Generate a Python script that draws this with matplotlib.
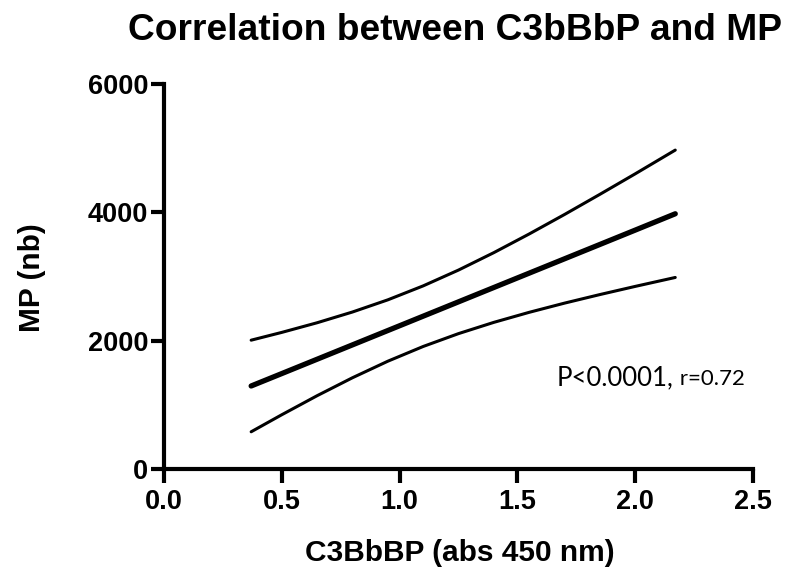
import numpy as np
import matplotlib.pyplot as plt

# --------------------------------------------
# Regression line with 95% confidence band
# --------------------------------------------
x_fit = [0.37, 0.50, 0.65, 0.80, 0.95, 1.10, 1.25, 1.40, 1.55, 1.70, 1.85, 2.00, 2.17]
mp_fit = [1298, 1491, 1714, 1937, 2160, 2383, 2606, 2829, 3052, 3275, 3498, 3721, 3975]
mp_upper = [2010, 2131, 2281, 2448, 2637, 2854, 3100, 3371, 3661, 3964, 4277, 4596, 4965]
mp_lower = [586, 851, 1147, 1426, 1683, 1912, 2112, 2287, 2443, 2586, 2719, 2846, 2985]

x_ticks = [0.0, 0.5, 1.0, 1.5, 2.0, 2.5]
x_tick_labels = ['0.0', '0.5', '1.0', '1.5', '2.0', '2.5']
y_ticks = [0, 2000, 4000, 6000]

stats_main = 'P<0.0001,'
stats_r = ' r=0.72'

plt.rcParams['font.family'] = ['Liberation Sans', 'DejaVu Sans']

fig = plt.figure(figsize=(7.88, 5.67), dpi=100)
ax = fig.add_axes([0.2081, 0.1720, 0.7475, 0.6807])

# CI band lines and the fit line
ax.plot(x_fit, mp_upper, color='black', lw=2.2, solid_capstyle='round')
ax.plot(x_fit, mp_lower, color='black', lw=2.2, solid_capstyle='round')
ax.plot(x_fit, mp_fit, color='black', lw=3.8, solid_capstyle='round')

ax.set_xlim(0, 2.5)
ax.set_ylim(0, 6000)
ax.set_xticks(x_ticks)
ax.set_xticklabels(x_tick_labels)
ax.set_yticks(y_ticks)

for side in ['top', 'right']:
    ax.spines[side].set_visible(False)
for side in ['left', 'bottom']:
    ax.spines[side].set_linewidth(3)
    ax.spines[side].set_capstyle('projecting')

ax.tick_params(axis='x', direction='out', length=10, width=3, pad=4,
               labelsize=19.5)
ax.tick_params(axis='y', direction='out', length=9.5, width=3, pad=2,
               labelsize=19.5)
for lbl in ax.get_xticklabels() + ax.get_yticklabels():
    lbl.set_fontweight('bold')

# axis titles and chart title
fig.text(0.584, 0.0106, 'C3BbBP (abs 450 nm)', ha='center', va='baseline',
         fontsize=21.5, fontweight='bold')
fig.text(0.041, 0.5097, 'MP (nb)', rotation=90, ha='center', va='center',
         fontsize=21.5, fontweight='bold')
fig.text(0.1624, 0.9295, 'Correlation between C3bBbP and MP', ha='left',
         va='baseline', fontsize=26.7, fontweight='bold')

# stats annotation, two sizes
t1 = ax.text(1.668, 1313, stats_main, fontsize=18.5,
             family=['Lato', 'DejaVu Sans'], ha='left', va='baseline')
fig.canvas.draw()
bb = t1.get_window_extent().transformed(ax.transData.inverted())
ax.text(bb.x1, 1313, stats_r, fontsize=16, family=['Lato', 'DejaVu Sans'],
        ha='left', va='baseline')

fig.savefig('out.png', dpi=100)
